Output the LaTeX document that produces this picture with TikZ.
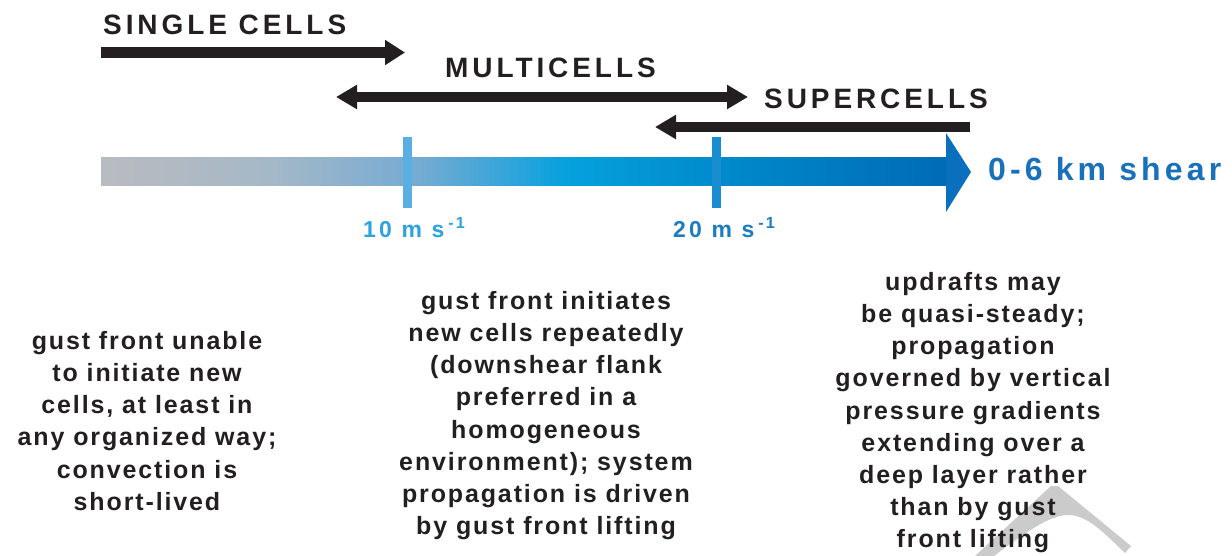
\documentclass[tikz,border=0pt]{standalone}
\usepackage{fontspec}
\setmainfont{Liberation Sans}
\newfontfamily\headfont{Liberation Sans}[LetterSpace=14]
\newfontfamily\axisfont{Liberation Sans}[LetterSpace=14]
\newfontfamily\shearfont{Liberation Sans}[LetterSpace=13]
\newfontfamily\bodyfont{Liberation Sans}[LetterSpace=7.5]
\usetikzlibrary{arrows.meta}

\definecolor{ink}{HTML}{231F20}
\definecolor{barA}{HTML}{B9BBC0}
\definecolor{barB}{HTML}{A5B8C7}
\definecolor{barC}{HTML}{74AAD2}
\definecolor{barD}{HTML}{06A1DE}
\definecolor{barE}{HTML}{0088CA}
\definecolor{barF}{HTML}{006BB6}
\definecolor{headblue}{HTML}{0A6FBD}
\definecolor{tickone}{HTML}{5AAFE2}
\definecolor{ticktwo}{HTML}{1A8DD0}
\definecolor{labone}{HTML}{2CA2DE}
\definecolor{labtwo}{HTML}{1C7CC0}
\definecolor{shearblue}{HTML}{1871BA}
\definecolor{chevrongray}{HTML}{CBCBCB}

% colour ramp of the shear axis (inner 25bp--75bp is the bar itself)
\pgfdeclarehorizontalshading{shearbar}{100bp}{%
  color(0bp)=(barA); color(25bp)=(barA); color(35bp)=(barB);
  color(44bp)=(barC); color(52.5bp)=(barD); color(62.5bp)=(barE);
  color(75bp)=(barF); color(100bp)=(barF)}

\tikzset{
  range/.style={line width=#1, draw=ink},
  headtxt/.style={font=\headfont\bfseries\fontsize{28}{33}\selectfont, text=ink,
    inner sep=0pt, anchor=base west},
  ticklab/.style={font=\axisfont\bfseries\fontsize{23}{27}\selectfont,
    inner sep=0pt, anchor=base west},
  regime/.style={font=\bodyfont\bfseries\fontsize{25}{32.2}\selectfont, text=ink,
    align=center, inner sep=0pt, anchor=north},
}

\begin{document}
\begin{tikzpicture}[x=1pt, y=-1pt]
\useasboundingbox (0,0) rectangle (1232,556);

% faint chevron in the lower right corner
\fill[chevrongray] (975,556) -- (1051,486) -- (1058,486) -- (1131,546) -- (1125,553)
  .. controls (1102,531) and (1087,515) .. (1068,515)
  .. controls (1050,515) and (1024,533) .. (994,556) -- cycle;

% regime ranges
\coordinate (single-l) at (101,52.5);
\coordinate (single-r) at (405,52.5);
\coordinate (multi-l) at (336,97);
\coordinate (multi-r) at (748,97);
\coordinate (super-r) at (970,127);
\coordinate (super-l) at (655,127);

\draw[range=11pt, -{Triangle[length=20pt, width=24pt]}] (single-l) -- (single-r);
\draw[range=10pt, {Triangle[length=21pt, width=23pt]}-{Triangle[length=21pt, width=23pt]}]
  (multi-l) -- (multi-r);
\draw[range=10pt, -{Triangle[length=21pt, width=23pt]}] (super-r) -- (super-l);

\node[headtxt] (single) at (103,35) {SINGLE CELLS};
\node[headtxt] (multi) at (445,78) {MULTICELLS};
\node[headtxt] (super) at (764,109) {SUPERCELLS};

% shear axis
\shade[shading=shearbar] (101,158) rectangle (946,186);
\fill[headblue] (946,133) -- (971,172) -- (946,212) -- cycle;
\fill[tickone] (402.5,137) rectangle (411.5,208);
\fill[ticktwo] (711.5,137) rectangle (720.5,208);

\node[font=\shearfont\bfseries\fontsize{32}{38}\selectfont, text=shearblue,
  inner sep=0pt, anchor=base west] (shear) at (988,181) {0-6 km shear};
\node[ticklab, text=labone] (ten) at (363,238) {10 m s\,\textsuperscript{-1}};
\node[ticklab, text=labtwo] (twenty) at (673,238) {20 m s\,\textsuperscript{-1}};

% regime descriptions
\node[regime] (single-txt) at (147,331) {gust front unable\\ to initiate new\\
  cells, at least in\\ any organized way;\\ convection is\\ short-lived};
\node[regime] (multi-txt) at (546,291) {gust front initiates\\ new cells repeatedly\\
  (downshear flank\\ preferred in a\\ homogeneous\\ environment); system\\
  propagation is driven\\ by gust front lifting};
\node[regime] (super-txt) at (973,272) {updrafts may\\ be quasi-steady;\\
  propagation\\ governed by vertical\\ pressure gradients\\ extending over a\\
  deep layer rather\\ than by gust\\ front lifting};
\end{tikzpicture}
\end{document}
